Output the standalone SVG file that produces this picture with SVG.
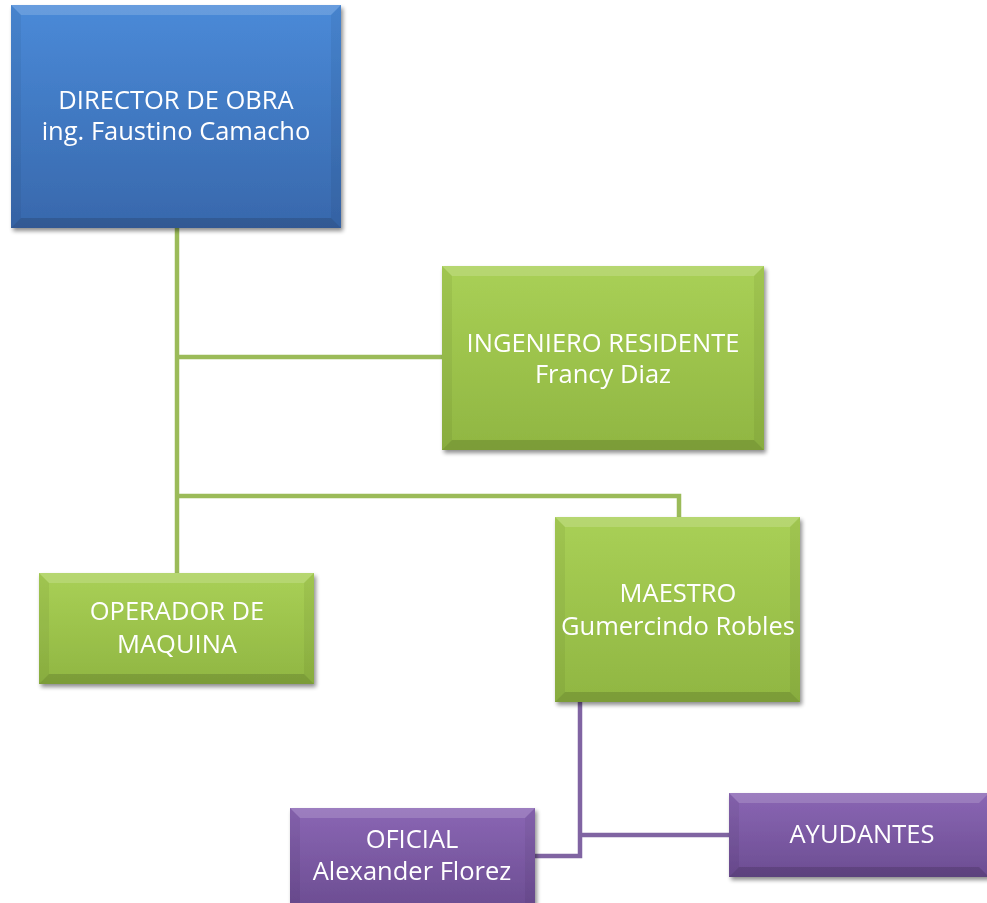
<svg xmlns="http://www.w3.org/2000/svg" width="987" height="903" viewBox="0 0 987 903">
<defs>
<linearGradient id="gBlue" x1="0" y1="0" x2="0" y2="1"><stop offset="0" stop-color="#4a8ad8"/><stop offset="1" stop-color="#3868ac"/></linearGradient>
<linearGradient id="gGreen" x1="0" y1="0" x2="0" y2="1"><stop offset="0" stop-color="#a9d056"/><stop offset="1" stop-color="#90b642"/></linearGradient>
<linearGradient id="gPurple" x1="0" y1="0" x2="0" y2="1"><stop offset="0" stop-color="#8a66b4"/><stop offset="1" stop-color="#6c4d92"/></linearGradient>
<filter id="sh" x="-10%" y="-10%" width="125%" height="130%"><feGaussianBlur in="SourceAlpha" stdDeviation="2"/><feOffset dx="2" dy="3"/><feComponentTransfer><feFuncA type="linear" slope="0.45"/></feComponentTransfer><feMerge><feMergeNode/><feMergeNode in="SourceGraphic"/></feMerge></filter>
</defs>
<style>
text{font-family:"Open Sans","Liberation Sans",sans-serif;font-size:25.5px;fill:#ffffff;text-anchor:middle}
.cg{fill:none;stroke:#9bbb59;stroke-width:4.5}
.cp{fill:none;stroke:#8064a2;stroke-width:4.5}
.hi{fill:#ffffff;opacity:0.16}
.lo{fill:#000000;opacity:0.14}
.sd{fill:#000000;opacity:0.05}
</style>
<g id="connectors">
<path class="cg" d="M177 228 V573"/>
<path class="cg" d="M177 357 H442"/>
<path class="cg" d="M177 496 H679 V517"/>
<path class="cp" d="M580 702 V856 H535"/>
<path class="cp" d="M580 835 H729"/>
</g>
<g id="director" filter="url(#sh)">
<rect x="11" y="5" width="330" height="223" fill="url(#gBlue)"/>
<path class="hi" d="M11 5 H341 L331 15 H21 Z"/>
<path class="lo" d="M11 228 H341 L331 218 H21 Z"/>
<path class="sd" d="M11 5 L21 15 V218 L11 228 Z"/>
<path class="sd" d="M341 5 L331 15 V218 L341 228 Z"/>
<text x="176" y="109">DIRECTOR DE OBRA</text>
<text x="176" y="140">ing. Faustino Camacho</text>
</g>
<g id="ingeniero" filter="url(#sh)">
<rect x="442" y="266" width="322" height="184" fill="url(#gGreen)"/>
<path class="hi" d="M442 266 H764 L754 276 H452 Z"/>
<path class="lo" d="M442 450 H764 L754 440 H452 Z"/>
<path class="sd" d="M442 266 L452 276 V440 L442 450 Z"/>
<path class="sd" d="M764 266 L754 276 V440 L764 450 Z"/>
<text x="603" y="352">INGENIERO RESIDENTE</text>
<text x="603" y="383">Francy Diaz</text>
</g>
<g id="operador" filter="url(#sh)">
<rect x="39" y="573" width="275" height="111" fill="url(#gGreen)"/>
<path class="hi" d="M39 573 H314 L304 583 H49 Z"/>
<path class="lo" d="M39 684 H314 L304 674 H49 Z"/>
<path class="sd" d="M39 573 L49 583 V674 L39 684 Z"/>
<path class="sd" d="M314 573 L304 583 V674 L314 684 Z"/>
<text x="177" y="620">OPERADOR DE</text>
<text x="177" y="653">MAQUINA</text>
</g>
<g id="maestro" filter="url(#sh)">
<rect x="555" y="517" width="245" height="185" fill="url(#gGreen)"/>
<path class="hi" d="M555 517 H800 L790 527 H565 Z"/>
<path class="lo" d="M555 702 H800 L790 692 H565 Z"/>
<path class="sd" d="M555 517 L565 527 V692 L555 702 Z"/>
<path class="sd" d="M800 517 L790 527 V692 L800 702 Z"/>
<text x="678" y="602">MAESTRO</text>
<text x="678" y="635">Gumercindo Robles</text>
</g>
<g id="oficial" filter="url(#sh)">
<rect x="290" y="808" width="245" height="100" fill="url(#gPurple)"/>
<path class="hi" d="M290 808 H535 L525 818 H300 Z"/>
<path class="sd" d="M290 808 L300 818 V908 L290 908 Z"/>
<path class="sd" d="M535 808 L525 818 V908 L535 908 Z"/>
<text x="412" y="848">OFICIAL</text>
<text x="412" y="880">Alexander Florez</text>
</g>
<g id="ayudantes" filter="url(#sh)">
<rect x="729" y="793" width="260" height="84" fill="url(#gPurple)"/>
<path class="hi" d="M729 793 H989 L979 803 H739 Z"/>
<path class="lo" d="M729 877 H989 L979 867 H739 Z"/>
<path class="sd" d="M729 793 L739 803 V867 L729 877 Z"/>
<text x="862" y="843">AYUDANTES</text>
</g>
</svg>
